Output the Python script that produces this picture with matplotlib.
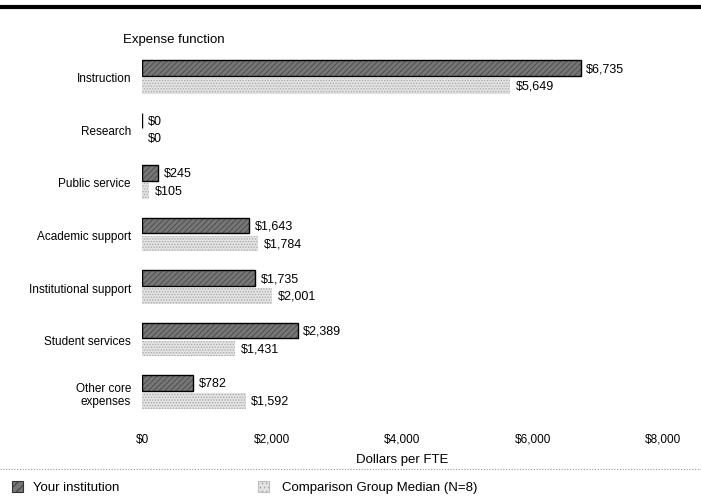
import matplotlib
matplotlib.use("Agg")
import matplotlib.pyplot as plt
from matplotlib.patches import Rectangle
from matplotlib.lines import Line2D
import numpy as np

plt.rcParams['font.family'] = ['Liberation Sans', 'DejaVu Sans']
plt.rcParams['hatch.linewidth'] = 0.6

# Data
categories = ["Instruction", "Research", "Public service", "Academic support",
              "Institutional support", "Student services", "Other core\nexpenses"]
your_institution = [6735, 0, 245, 1643, 1735, 2389, 782]
comparison_median = [5649, 0, 105, 1784, 2001, 1431, 1592]
x_ticks = [0, 2000, 4000, 6000, 8000]
x_tick_labels = ["$0", "$2,000", "$4,000", "$6,000", "$8,000"]

dark_color = "#767676"
light_color = "#e2e2e2"

fig = plt.figure(figsize=(7.01, 5.02), dpi=100)
ax = fig.add_axes([142 / 701, 1 - 420 / 502, 521 / 701, 370 / 502])

y = np.arange(len(categories))
h = 0.30
off = 0.17
# textured fills
ax.barh(y - off, your_institution, height=h, color=dark_color,
        edgecolor="#4a4a4a", linewidth=0, hatch="//////")
ax.barh(y - off, your_institution, height=h, fill=False,
        edgecolor="black", linewidth=1.0)
ax.barh(y + off, comparison_median, height=h, color=light_color,
        edgecolor="#a8a8a8", linewidth=0, hatch="......")

# value labels
for yi, v in zip(y, your_institution):
    ax.annotate(f"${v:,}", (v, yi - off), xytext=(4, 0), textcoords="offset points",
                va="center", ha="left", fontsize=9)
for yi, v in zip(y, comparison_median):
    ax.annotate(f"${v:,}", (v, yi + off), xytext=(4, 0), textcoords="offset points",
                va="center", ha="left", fontsize=9)

ax.set_xlim(0, 8000)
ax.set_ylim(6.514, -0.533)
ax.set_xticks(x_ticks)
ax.set_xticklabels(x_tick_labels, fontsize=8.5)
ax.set_yticks(y)
ax.set_yticklabels(categories, fontsize=8.5)
ax.tick_params(axis="both", length=0)
ax.tick_params(axis="x", pad=10)
ax.tick_params(axis="y", pad=8)
for s in ax.spines.values():
    s.set_visible(False)
ax.set_xlabel("Dollars per FTE", fontsize=9.5, labelpad=6)

# headers / decorations
fig.text(123 / 701, 1 - 40 / 502, "Expense function", fontsize=9.5, va="center", ha="left")
fig.add_artist(Line2D([0, 1], [1 - 8 / 502] * 2, color="black", linewidth=3,
                      transform=fig.transFigure))
fig.add_artist(Line2D([0, 1], [1 - 470 / 502] * 2, color="#999999", linewidth=0.8,
                      linestyle=(0, (1, 1.5)), transform=fig.transFigure))

# legend
fig.add_artist(Rectangle((12 / 701, 1 - 493 / 502), 11 / 701, 11 / 502,
                         facecolor=dark_color, edgecolor="#333333", linewidth=0.8,
                         hatch="////", transform=fig.transFigure))
fig.text(33 / 701, 1 - 488 / 502, "Your institution", fontsize=9.5, va="center")
fig.add_artist(Rectangle((258 / 701, 1 - 493 / 502), 11 / 701, 11 / 502,
                         facecolor=light_color, edgecolor="#a8a8a8", linewidth=0.5,
                         hatch="....", transform=fig.transFigure))
fig.text(282 / 701, 1 - 488 / 502, "Comparison Group Median (N=8)", fontsize=9.5, va="center")

fig.savefig("out.png", dpi=100)
